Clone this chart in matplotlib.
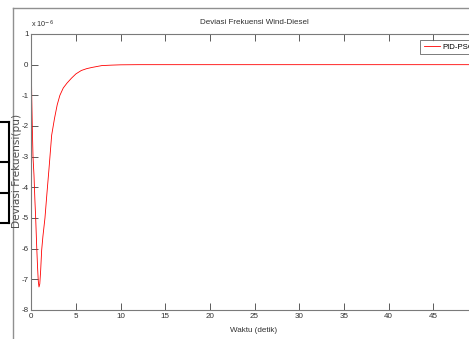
import matplotlib
matplotlib.use("Agg")
import matplotlib.pyplot as plt
from matplotlib.lines import Line2D

# Data (deviation in units of 1e-6 pu)
waktu = [0, 0.05, 0.11, 0.19, 0.3, 0.4, 0.49, 0.6, 0.7, 0.78, 0.86, 0.95,
         1.05, 1.16, 1.3, 1.53, 1.75, 1.98, 2.28, 2.6, 2.9, 3.2, 3.58, 4.0,
         4.5, 5.0, 5.6, 6.2, 6.8, 7.9, 9.0, 10.0, 12.0, 15.0, 20.0, 30.0,
         40.0, 50.0]
deviasi = [0, -1.1, -2.0, -3.0, -3.6, -4.4, -5.0, -5.9, -6.6, -7.05, -7.25,
           -7.15, -6.7, -6.05, -5.6, -5.0, -4.2, -3.4, -2.3, -1.75, -1.31,
           -1.0, -0.76, -0.6, -0.44, -0.3, -0.19, -0.13, -0.09, -0.03,
           -0.015, -0.005, 0, 0, 0, 0, 0, 0]
xticks = list(range(0, 46, 5))
yticks = list(range(-8, 2))

W, H = 469, 339
plt.rcParams["axes.unicode_minus"] = False
plt.rcParams["font.family"] = ["Liberation Sans", "DejaVu Sans"]
gray = "#7a7a7a"


def fx(px):
    return px / W


def fy(py):
    return 1 - py / H


fig = plt.figure(figsize=(W / 100, H / 100), dpi=100)
fig.patch.set_facecolor("white")

left, right, top, bottom = 31.3, 477.8, 34, 310
ax = fig.add_axes([fx(left), fy(bottom), fx(right - left), (bottom - top) / H])
ax.plot(waktu, deviasi, color="red", lw=0.6)
ax.set_xlim(0, 50)
ax.set_ylim(-8, 1)
ax.set_xticks(xticks)
ax.set_yticks(yticks)
ax.tick_params(direction="in", length=5, width=0.6, color="#404040",
               labelsize=5.8, labelcolor="#303030", pad=2,
               top=True, right=True)
for s in ax.spines.values():
    s.set_color(gray)
    s.set_linewidth(0.8)

fig.text(fx(254), fy(22), "Deviasi Frekuensi Wind-Diesel", fontsize=5.8,
         color="#303030", ha="center", va="center")
fig.text(fx(254), fy(330), "Waktu (detik)", fontsize=5.8,
         color="#303030", ha="center", va="center")
fig.text(fx(17), fy(171), "Deviasi Frekuensi(pu)", fontsize=7.6,
         family="DejaVu Sans", color="#505050", rotation=90,
         ha="center", va="center")
fig.text(fx(31), fy(27), r"x 10$^{-6}$", fontsize=5.2,
         color="#303030", va="baseline")

leg = ax.legend(["PID-PSO"], loc="upper left", frameon=True, fancybox=False,
                handlelength=2.1, handletextpad=0.3, borderpad=0.45,
                borderaxespad=0, bbox_to_anchor=(fx(420), fy(40)),
                bbox_transform=fig.transFigure, fontsize=5.6)
leg.get_frame().set_edgecolor("#404040")
leg.get_frame().set_linewidth(0.6)

# figure window frame
fig.add_artist(Line2D([fx(13), fx(13)], [fy(8), fy(339)], color="#909090", lw=1))
fig.add_artist(Line2D([fx(13), fx(469)], [fy(8), fy(8)], color="#909090", lw=1))

# black boxes on the left edge
for yy in [122, 162, 193, 223]:
    fig.add_artist(Line2D([fx(0), fx(9)], [fy(yy), fy(yy)], color="black", lw=1.5))
fig.add_artist(Line2D([fx(9), fx(9)], [fy(122), fy(223)], color="black", lw=1.5))

fig.savefig("out.png", dpi=100)
